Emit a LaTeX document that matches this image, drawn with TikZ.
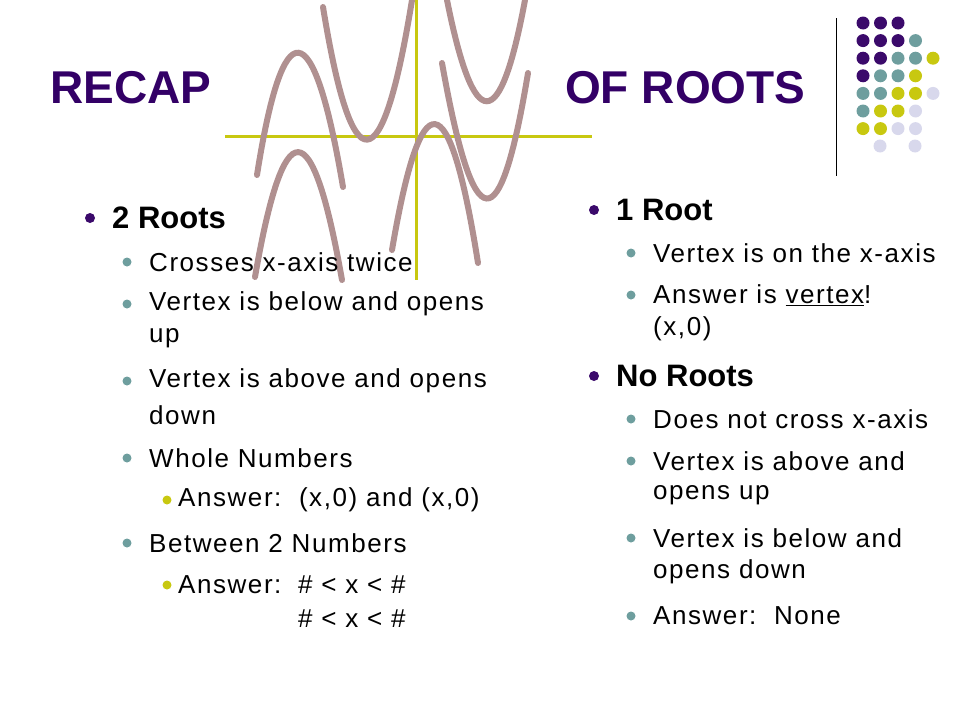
\documentclass[tikz,border=0pt]{standalone}
\usepackage{fontspec}
\setmainfont{Liberation Sans}
\usetikzlibrary{calc}
\definecolor{titlepurple}{HTML}{330066}
\definecolor{dotpurple}{HTML}{3B0A6B}
\definecolor{dotteal}{HTML}{6E9E9E}
\definecolor{dotyellow}{HTML}{C8C810}
\definecolor{dotlav}{HTML}{D8D8EC}
\definecolor{curve}{HTML}{B09090}
\colorlet{P}{dotpurple}
\colorlet{T}{dotteal}
\colorlet{Y}{dotyellow}
\colorlet{L}{dotlav}
\tikzset{
  txt/.style={anchor=west, inner sep=0pt, font=\fontsize{26}{30}\selectfont\addfontfeatures{LetterSpace=6}},
  head/.style={anchor=west, inner sep=0pt, font=\fontsize{31}{36}\selectfont\bfseries},
  parab/.style={curve, line width=6pt, line cap=round},
}
\begin{document}
\begin{tikzpicture}[x=1pt, y=-1pt]
  \useasboundingbox (0,0) rectangle (960,720);
  % ejes
  \draw [dotyellow, line width=3pt] (225,136) -- (592,136);
  \draw [dotyellow, line width=3pt] (416,0) -- (416,280);
  % parabolas
  \draw [parab] (257,175) .. controls (283,10) and (313,10) .. (343,187);
  \draw [parab] (323,7) .. controls (352,185) and (382,185) .. (412,0);
  \draw [parab] (447,0) .. controls (474,135) and (500,135) .. (525,0);
  \draw [parab] (442,63) .. controls (474,242) and (500,242) .. (528,73);
  \draw [parab] (392,250) .. controls (421,80) and (449,80) .. (478,263);
  \draw [parab] (255,277) .. controls (284,110) and (312,110) .. (342,280);
  % titulo
  \node [anchor=west, inner sep=0pt, text=titlepurple, font=\fontsize{46}{52}\selectfont\bfseries] (recap) at (50,88) {RECAP};
  \node [anchor=west, inner sep=0pt, text=titlepurple, font=\fontsize{46}{52}\selectfont\bfseries] (ofroots) at (565,88) {OF ROOTS};
  % linea vertical y puntos
  \draw [line width=1pt] (836,18) -- (836,176);
  \foreach \row/\cols in {0/{P,P,P}, 1/{P,P,P,T}, 2/{P,P,T,T,Y}, 3/{P,T,T,Y}, 4/{T,T,Y,Y,L}, 5/{T,Y,Y,L}, 6/{Y,Y,L,L}}
    \foreach \c [count=\i from 0] in \cols
      \fill [fill=\c] (863+17.5*\i, 23+17.6*\row) circle (6.5);
  \fill [dotlav] (880,146) circle (6.5);
  \fill [dotlav] (915,146) circle (6.5);
  % columna izquierda
  \fill [dotpurple] (90,218) circle (5);
  \node [head] (tworoots) at (112,218) {2 Roots};
  \foreach \y in {262,304,381,458,543}
    \fill [dotteal] (127,\y) circle (4.5);
  \node [txt] (cross) at (149,262) {Crosses x-axis twice};
  \node [txt] (below) at (149,304) {Vertex is below and opens};
  \node [txt] (belowb) at (149,338) {up};
  \node [txt] (above) at (149,381) {Vertex is above and opens};
  \node [txt] (aboveb) at (149,415) {down};
  \node [txt] (whole) at (149,458) {Whole Numbers};
  \fill [dotyellow] (167,500) circle (4.5);
  \node [txt] (answ) at (178,500) {Answer:\ \ (x,0) and (x,0)};
  \node [txt] (betw) at (149,543) {Between 2 Numbers};
  \fill [dotyellow] (167,585) circle (4.5);
  \node [txt] (ansb) at (178,585) {Answer:};
  \node [txt] (ineqa) at (298,585) {\# < x < \#};
  \node [txt] (ineqb) at (298,619) {\# < x < \#};
  % columna derecha
  \fill [dotpurple] (594,210) circle (5);
  \node [head] (oneroot) at (616,210) {1 Root};
  \foreach \y in {253,295,419,461,538,616}
    \fill [dotteal] (631,\y) circle (4.5);
  \node [txt] (onx) at (653,253) {Vertex is on the x-axis};
  \node [txt] (ansv) at (653,295) {Answer is \underline{vertex}!};
  \node [txt] (ansvb) at (653,329) {(x,0)};
  \fill [dotpurple] (594,376) circle (5);
  \node [head] (noroots) at (616,376) {No Roots};
  \node [txt] (nocross) at (653,419) {Does not cross x-axis};
  \node [txt] (abovu) at (653,461) {Vertex is above and};
  \node [txt] (abovub) at (653,495) {opens up};
  \node [txt] (belod) at (653,538) {Vertex is below and};
  \node [txt] (belodb) at (653,572) {opens down};
  \node [txt] (none) at (653,616) {Answer:\ \ None};
\end{tikzpicture}
\end{document}
